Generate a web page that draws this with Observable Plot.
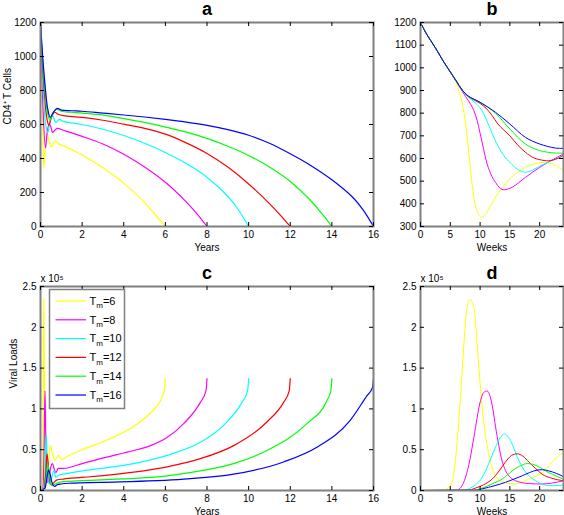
<!DOCTYPE html>
<html><head><meta charset="utf-8">
<script src="https://cdn.jsdelivr.net/npm/d3@7"></script>
<script src="https://cdn.jsdelivr.net/npm/@observablehq/plot@0.6"></script>
<style>
body{margin:0;background:#fff;}
#wrap{position:relative;width:564px;height:515px;overflow:hidden;background:#fff;}
#wrap svg{position:absolute;margin:0;}
</style></head><body><div id="wrap"></div>
<script>
// ---- data ----
const tmValues = [6, 8, 10, 12, 14, 16];
const lineColors = ["#ffff00", "#ff00ff", "#00ffff", "#ff0000", "#00ff00", "#0000ff"];

// Panel a: CD4+ T cells vs years
const cd4Yrs6 = [[0,1200],[0.05,950],[0.1,620],[0.16,345],[0.24,470],[0.33,545],[0.42,500],[0.53,468],[0.7,505],[0.86,486],[1.1,476],[1.5,452],[2,420],[3,345],[4,255],[5,140],[5.5,72],[6,0]];
const cd4Yrs8 = [[0,1200],[0.06,960],[0.12,700],[0.24,462],[0.33,560],[0.42,605],[0.5,585],[0.58,554],[0.8,577],[1.09,566],[2,530],[3,485],[4,425],[5,350],[6,260],[7,145],[7.5,77],[8,0]];
const cd4Yrs10 = [[0,1200],[0.07,980],[0.15,760],[0.25,600],[0.35,552],[0.47,625],[0.58,652],[0.74,612],[0.9,630],[1.1,618],[2,600],[3,572],[4,535],[5,490],[6,435],[7,370],[8,290],[9,178],[9.5,100],[10,0]];
const cd4Yrs12 = [[0,1200],[0.08,990],[0.18,800],[0.3,640],[0.4,595],[0.52,640],[0.68,672],[0.85,660],[1.1,652],[2,642],[3,625],[4,602],[5,577],[6,543],[7,492],[8,430],[9,350],[10,250],[11,135],[11.5,70],[12,0]];
const cd4Yrs14 = [[0,1200],[0.09,1000],[0.2,820],[0.32,680],[0.45,625],[0.6,668],[0.78,690],[1,678],[1.5,672],[2,667],[3,655],[4,635],[5,612],[6,585],[7,555],[8,518],[9,472],[10,418],[11,350],[12,265],[13,150],[13.5,78],[14,0]];
const cd4Yrs16 = [[0,1200],[0.1,1010],[0.22,830],[0.35,690],[0.47,642],[0.62,672],[0.8,695],[1,685],[1.5,681],[2,678],[3,667],[4,656],[5,644],[6,630],[7,614],[8,595],[9,570],[10,537],[11,490],[12,428],[13,358],[14,275],[15,172],[15.5,98],[16,0]];

// Panel b: CD4+ T cells vs weeks
const cd4Wk6 = [[0,1200],[1,1150],[2.5,1088],[4,1022],[5,982],[5.5,962],[6,935],[6.5,895],[7,845],[7.55,760],[8.1,625],[8.67,485],[9.23,392],[9.8,350],[10.35,342],[11,356],[11.47,378],[12.3,415],[13.14,451],[14.99,510],[17.62,561],[20.41,583],[22.09,576],[24,547]];
const cd4Wk8 = [[0,1200],[1,1150],[2.5,1088],[4,1022],[5,982],[6,940],[6.8,905],[7.55,874],[8.4,840],[8.95,812],[9.5,768],[10,712],[10.6,640],[11.18,576],[12,520],[12.58,495],[13.4,468],[14,462],[15.38,473],[17.62,517],[20,561],[22,592],[24,620]];
const cd4Wk10 = [[0,1200],[1,1150],[2.5,1088],[4,1022],[5,982],[6,942],[7,902],[8,872],[9,850],[10,824],[11,775],[12,712],[13,655],[14,612],[15,583],[16.3,552],[17.4,540],[18.5,545],[20,566],[22,590],[24,612]];
const cd4Wk12 = [[0,1200],[1,1150],[2.5,1088],[4,1022],[5,982],[6,942],[7,902],[8,874],[9,858],[10,843],[11,822],[12,790],[13,752],[14,725],[15,700],[16.3,660],[17.62,627],[19,603],[20,595],[21.53,590],[23,600],[24,615]];
const cd4Wk14 = [[0,1200],[1,1150],[2.5,1088],[4,1022],[5,982],[6,942],[7,902],[8,875],[10,848],[12.58,800],[15,730],[17.62,664],[20,635],[22.65,624],[24,624]];
const cd4Wk16 = [[0,1200],[1,1150],[2.5,1088],[4,1022],[5,982],[6,942],[7,902],[8,876],[10,848],[12.58,804],[15,752],[17.62,693],[20,664],[22.65,646],[24,645]];

// Panel c: viral loads (x 10^5) vs years
const vlYrs6 = [[0,0],[0.07,0.02],[0.1,0.3],[0.13,1.3],[0.16,2.35],[0.19,1.3],[0.22,0.4],[0.26,0.1],[0.32,0.15],[0.4,0.38],[0.48,0.55],[0.58,0.44],[0.69,0.37],[0.85,0.43],[1.01,0.38],[1.3,0.42],[2,0.5],[2.88,0.585],[3.68,0.675],[4.48,0.785],[5.28,0.95],[5.76,1.1],[5.95,1.22],[6,1.37]];
const vlYrs8 = [[0,0],[0.12,0.03],[0.17,0.5],[0.215,1.22],[0.25,0.7],[0.29,0.2],[0.35,0.1],[0.4,0.13],[0.48,0.27],[0.58,0.33],[0.66,0.26],[0.74,0.22],[0.85,0.27],[1.09,0.27],[2,0.33],[2.88,0.39],[4,0.46],[4.48,0.49],[5.28,0.55],[6.08,0.65],[6.88,0.82],[7.68,1.08],[7.95,1.22],[8,1.37]];
const vlYrs10 = [[0,0],[0.15,0.03],[0.21,0.2],[0.27,0.69],[0.33,0.35],[0.38,0.1],[0.44,0.08],[0.52,0.14],[0.64,0.24],[0.74,0.16],[0.9,0.19],[1.09,0.2],[2,0.24],[2.88,0.27],[4.48,0.33],[6.08,0.43],[7.68,0.59],[8.88,0.82],[9.68,1.08],[9.95,1.22],[10,1.37]];
const vlYrs12 = [[0,0],[0.18,0.03],[0.25,0.2],[0.31,0.45],[0.38,0.3],[0.45,0.1],[0.53,0.07],[0.65,0.1],[0.8,0.13],[1.1,0.14],[2,0.16],[2.88,0.18],[4.48,0.225],[6.08,0.29],[7.68,0.39],[9.28,0.55],[10.88,0.84],[11.68,1.08],[11.95,1.22],[12,1.37]];
const vlYrs14 = [[0,0],[0.2,0.03],[0.28,0.17],[0.35,0.32],[0.42,0.22],[0.5,0.08],[0.58,0.06],[0.7,0.08],[0.9,0.1],[1.2,0.11],[2,0.12],[2.88,0.13],[6.08,0.18],[7.68,0.24],[9.28,0.33],[10.88,0.49],[12.8,0.82],[13.76,1.1],[13.95,1.22],[14,1.37]];
const vlYrs16 = [[0,0],[0.22,0.03],[0.3,0.14],[0.38,0.25],[0.46,0.2],[0.55,0.1],[0.68,0.05],[0.8,0.07],[1,0.08],[1.5,0.09],[2.88,0.1],[6.88,0.14],[9.28,0.2],[11.68,0.35],[13.28,0.53],[14.88,0.86],[15.68,1.16],[15.95,1.26],[16,1.37]];

// Panel d: viral loads (x 10^5) vs weeks
const vlWk6 = [[0,0],[3.9,0.005],[4.6,0.03],[5.31,0.1],[5.9,0.4],[6.71,1.14],[7.44,1.95],[7.83,2.25],[8.3,2.34],[8.95,2.25],[9.5,1.8],[10.07,1.25],[10.6,0.85],[11.19,0.55],[12,0.28],[12.87,0.15],[13.7,0.1],[15.94,0.08],[18.18,0.14],[20.41,0.22],[22.09,0.35],[24,0.47]];
const vlWk8 = [[0,0],[6,0.005],[6.8,0.04],[7.55,0.16],[8.3,0.38],[8.95,0.65],[10.07,1.1],[10.6,1.2],[11.18,1.22],[11.7,1.15],[12.14,1.0],[12.6,0.78],[13.14,0.55],[13.7,0.36],[14.26,0.245],[15.1,0.16],[15.94,0.12],[18.18,0.085],[20.41,0.08],[22,0.09],[24,0.12]];
const vlWk10 = [[0,0],[7.5,0.005],[8.4,0.03],[9.23,0.07],[10.35,0.16],[11.4,0.32],[12.58,0.53],[13.4,0.65],[14.1,0.69],[14.8,0.65],[15.38,0.57],[16.2,0.42],[17.06,0.29],[18.2,0.18],[19.3,0.12],[20.4,0.08],[21.53,0.06],[22.8,0.06],[24,0.07]];
const vlWk12 = [[0,0],[8,0.005],[9.23,0.03],[10.6,0.07],[12.02,0.14],[13.2,0.24],[14.26,0.35],[15.3,0.43],[16.22,0.45],[17.2,0.42],[18.18,0.35],[19.3,0.27],[20.41,0.2],[22,0.15],[24,0.12]];
const vlWk14 = [[0,0],[9,0.005],[10.35,0.03],[12,0.08],[13.7,0.14],[14.9,0.21],[15.94,0.27],[17,0.31],[17.9,0.33],[18.9,0.32],[19.86,0.29],[21,0.24],[22.09,0.2],[24,0.14]];
const vlWk16 = [[0,0],[9.5,0.005],[10.35,0.02],[12.5,0.06],[14.26,0.1],[15.7,0.14],[17.06,0.18],[18.3,0.22],[19.58,0.25],[20.5,0.255],[21.53,0.24],[22.8,0.21],[24,0.17]];

// tick values
const yearTicks = [0, 2, 4, 6, 8, 10, 12, 14, 16];
const weekTicks = [0, 5, 10, 15, 20];
const cd4TicksA = [0, 200, 400, 600, 800, 1000, 1200];
const cd4TicksB = [300, 400, 500, 600, 700, 800, 900, 1000, 1100, 1200];
const vlTicks = [0, 0.5, 1, 1.5, 2, 2.5];

// ---- drawing ----
const FONT = "'Liberation Sans', Arial, Helvetica, sans-serif";
const wrap = document.getElementById("wrap");

function panel(o) {
  const ih = o.height - o.mt - o.mb, iw = o.width - o.ml - o.mr;
  const T = 4;
  const marks = [];
  o.series.forEach((s, i) => {
    marks.push(Plot.line(s, {x: d => d[0], y: d => d[1], stroke: lineColors[i], strokeWidth: o.sw, curve: o.curve, clip: true}));
  });
  marks.push(Plot.frame({stroke: "#808080", strokeWidth: 2}));
  marks.push(Plot.tickX(o.xTicks, {x: d => d, insetTop: ih - T, stroke: "#000"}));
  marks.push(Plot.tickX(o.xTicks, {x: d => d, insetBottom: ih - T, stroke: "#000"}));
  marks.push(Plot.tickY(o.yTicks, {y: d => d, insetRight: iw - T, stroke: "#000"}));
  marks.push(Plot.tickY(o.yTicks, {y: d => d, insetLeft: iw - T, stroke: "#000"}));
  marks.push(Plot.axisX({ticks: o.xTicks, tickSize: 0, tickPadding: 4, tickFormat: d => String(d), label: null}));
  marks.push(Plot.axisY({ticks: o.yTicks, tickSize: 0, tickPadding: 4, tickFormat: d => String(d), label: null}));
  marks.push(Plot.text([o.title], {text: d => d, frameAnchor: "top", dy: -8, lineAnchor: "bottom", fontWeight: "bold", fontSize: 18}));
  marks.push(Plot.text([o.xLabel], {text: d => d, frameAnchor: "bottom", dy: 24, lineAnchor: "bottom"}));
  if (o.yLabel) marks.push(Plot.text([o.yLabel], {text: d => d, frameAnchor: "left", dx: o.yLabelDx, rotate: -90}));
  if (o.exp) marks.push(Plot.text([o.exp], {text: d => d, frameAnchor: "top-left", textAnchor: "start", lineAnchor: "bottom", dy: -5}));
  const svg = Plot.plot({
    width: o.width, height: o.height,
    marginTop: o.mt, marginBottom: o.mb, marginLeft: o.ml, marginRight: o.mr,
    x: {domain: o.xDomain},
    y: {domain: o.yDomain},
    style: {fontFamily: FONT, fontSize: "10px", background: "transparent", overflow: "visible", color: "#000"},
    marks
  });
  svg.style.left = o.left + "px";
  svg.style.top = o.top + "px";
  wrap.appendChild(svg);
}

panel({series: [cd4Yrs6, cd4Yrs8, cd4Yrs10, cd4Yrs12, cd4Yrs14, cd4Yrs16], sw: 1.2, curve: "catmull-rom",
  xDomain: [0, 16], yDomain: [0, 1200], xTicks: yearTicks, yTicks: cd4TicksA,
  title: "a", xLabel: "Years", yLabel: "CD4\u207A T Cells", yLabelDx: -33,
  left: 0, top: 0, width: 380, height: 258, mt: 22, mb: 32, ml: 40, mr: 7});

panel({series: [cd4Wk6, cd4Wk8, cd4Wk10, cd4Wk12, cd4Wk14, cd4Wk16], sw: 1, curve: "catmull-rom",
  xDomain: [0, 24], yDomain: [300, 1200], xTicks: weekTicks, yTicks: cd4TicksB,
  title: "b", xLabel: "Weeks",
  left: 380, top: 0, width: 184, height: 258, mt: 22, mb: 32, ml: 40, mr: 1});

panel({series: [vlYrs6, vlYrs8, vlYrs10, vlYrs12, vlYrs14, vlYrs16], sw: 1.2, curve: "monotone-x",
  xDomain: [0, 16], yDomain: [0, 2.5], xTicks: yearTicks, yTicks: vlTicks,
  title: "c", xLabel: "Years", yLabel: "Viral Loads", yLabelDx: -27, exp: "x 10\u2075",
  left: 0, top: 258, width: 380, height: 257, mt: 28, mb: 25, ml: 40, mr: 7});

panel({series: [vlWk6, vlWk8, vlWk10, vlWk12, vlWk14, vlWk16], sw: 1, curve: "monotone-x",
  xDomain: [0, 24], yDomain: [0, 2.5], xTicks: weekTicks, yTicks: vlTicks,
  title: "d", xLabel: "Weeks", exp: "x 10\u2075",
  left: 380, top: 258, width: 184, height: 257, mt: 28, mb: 25, ml: 40, mr: 1});

// ---- legend (panel c) ----
const leg = d3.select(wrap).append("svg")
  .attr("width", 564).attr("height", 515)
  .style("left", "0px").style("top", "0px")
  .style("font-family", FONT);
leg.append("rect").attr("x", 49.5).attr("y", 289.5).attr("width", 75).attr("height", 119)
  .attr("fill", "#fff").attr("stroke", "#808080").attr("stroke-width", 1.5);
tmValues.forEach((tm, i) => {
  const y = 301 + i * 18.8;
  leg.append("line").attr("x1", 55.5).attr("x2", 86).attr("y1", y).attr("y2", y)
    .attr("stroke", lineColors[i]).attr("stroke-width", 1.2);
  const t = leg.append("text").attr("x", 89.5).attr("y", y + 3.8).attr("font-size", 11).attr("fill", "#000");
  t.append("tspan").text("T");
  t.append("tspan").attr("dy", 3.5).attr("font-size", 8).text("m");
  t.append("tspan").attr("dy", -3.5).text("=" + tm);
});
</script></body></html>
